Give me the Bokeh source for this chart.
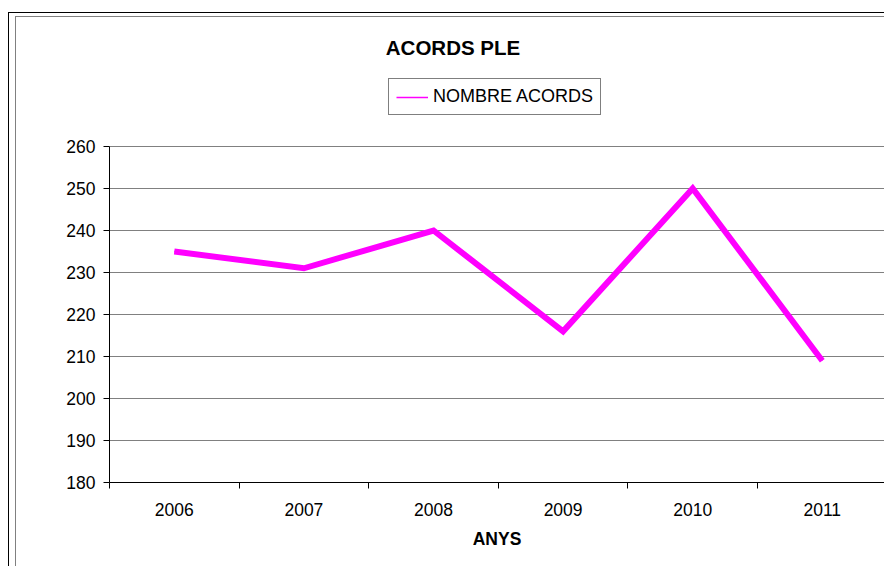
from bokeh.plotting import figure
from bokeh.models import (FixedTicker, Legend, LegendItem, ColumnDataSource, Label,
                          Range1d, CustomJSTickFormatter)
from bokeh.embed import file_html
from bokeh.resources import INLINE

# ---- data ----
years = ["2006", "2007", "2008", "2009", "2010", "2011"]
acords = [235, 231, 240, 216, 250, 209]
y_ticks = [180, 190, 200, 210, 220, 230, 240, 250, 260]
title_text = "ACORDS PLE"
series_name = "NOMBRE ACORDS"
x_title = "ANYS"

FONT = "Liberation Sans"
MAGENTA = "#FF00FF"

xpos = [i + 0.5 for i in range(len(years))]
src = ColumnDataSource(dict(x=xpos, y=acords))

# frame spans the full height above the x axis so that the title and legend
# (drawn inside it) are not clipped; the axis line is bounded to 180..260
y_min, y_max = y_ticks[0], y_ticks[-1]
y_top = y_max + 146 / 4.2

p = figure(width=884, height=566, output_backend="svg", toolbar_location=None,
           title=None,
           x_range=Range1d(0, 5.98), y_range=Range1d(y_min, y_top),
           min_border_left=109, min_border_right=0, min_border_top=0,
           min_border_bottom=84)
p.border_fill_alpha = 0
p.background_fill_alpha = 0
p.outline_line_color = None
p.styles = {
    "background-color": "white",
    "background-image": "linear-gradient(#000,#000), linear-gradient(#000,#000), "
                        "linear-gradient(#808080,#808080), linear-gradient(#808080,#808080)",
    "background-size": "1px 100%, 100% 1px, 1px 100%, 100% 1px",
    "background-position": "8px 12px, 8px 12px, 15px 16px, 15px 16px",
    "background-repeat": "no-repeat",
}

# thin copy (hidden beneath the thick line) used for the legend swatch
r_leg = p.line("x", "y", source=src, line_color=MAGENTA, line_width=1.6)
r = p.line("x", "y", source=src, line_color=MAGENTA, line_width=6, line_join="miter")

# x axis
p.xaxis.ticker = FixedTicker(ticks=xpos, minor_ticks=list(range(len(years) + 1)))
p.xaxis.formatter = CustomJSTickFormatter(args=dict(labels=years),
                                          code="const i = Math.floor(tick); return labels[i] ?? '';")
p.xaxis.major_tick_out = 0
p.xaxis.major_tick_in = 0
p.xaxis.minor_tick_out = 6
p.xaxis.minor_tick_in = 0
p.xaxis.minor_tick_line_color = "black"
p.xaxis.axis_line_color = "black"
p.xaxis.major_label_standoff = 14
p.xaxis.axis_label = x_title
p.xaxis.axis_label_text_font = FONT
p.xaxis.axis_label_text_font_size = "17.5px"
p.xaxis.axis_label_text_font_style = "bold"
p.xaxis.axis_label_text_color = "black"
p.xaxis.axis_label_standoff = 10
p.xgrid.visible = False

# y axis
p.yaxis.ticker = FixedTicker(ticks=y_ticks, minor_ticks=[])
p.yaxis.bounds = (y_min, y_max)
p.yaxis.major_tick_out = 6
p.yaxis.major_tick_in = 0
p.yaxis.axis_line_color = "black"
p.yaxis.major_tick_line_color = "black"
p.yaxis.major_label_standoff = 8
p.ygrid.ticker = FixedTicker(ticks=y_ticks)
p.ygrid.grid_line_color = "#808080"
p.ygrid.grid_line_width = 1

for ax in (p.xaxis, p.yaxis):
    ax.major_label_text_font = FONT
    ax.major_label_text_font_size = "17.5px"
    ax.major_label_text_color = "black"

# title (screen units measured from the frame's bottom-left corner)
p.add_layout(Label(x=343.5, y=435, x_units="screen", y_units="screen", text=title_text,
                   text_align="center", text_baseline="middle", text_font=FONT,
                   text_font_size="20.5px", text_font_style="bold", text_color="black"))

legend = Legend(items=[LegendItem(label=series_name, renderers=[r_leg])],
                location=(279, 367), orientation="vertical",
                padding=7, spacing=0, margin=0,
                glyph_width=32, glyph_height=18, label_height=18, label_standoff=5,
                label_text_font=FONT, label_text_font_size="18px",
                label_text_color="black",
                border_line_color="black", border_line_width=1,
                background_fill_color="white", background_fill_alpha=1)
p.add_layout(legend, "center")

open("out.html", "w").write(file_html(p, INLINE))
